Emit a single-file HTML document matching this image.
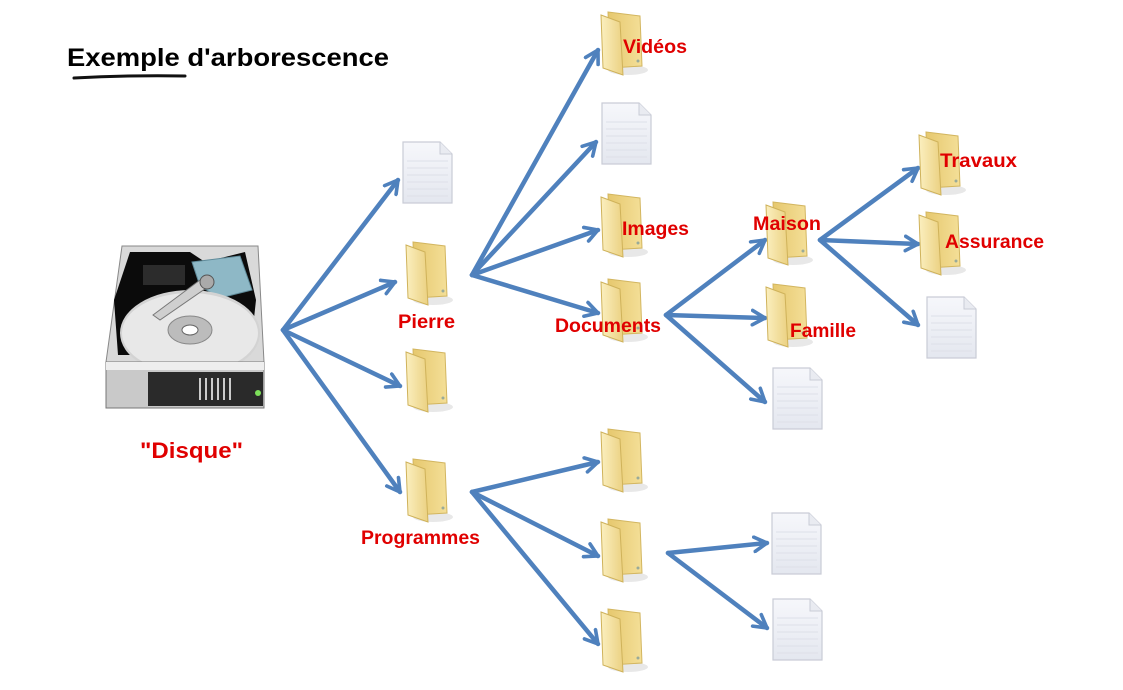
<!DOCTYPE html>
<html><head><meta charset="utf-8"><style>
html,body{margin:0;padding:0;background:#fff;}
svg{display:block;}
.l{font-family:"Liberation Sans",Arial,sans-serif;font-weight:bold;font-size:19.5px;fill:#e00000;}
</style></head><body>
<svg width="1123" height="690" viewBox="0 0 1123 690" xmlns="http://www.w3.org/2000/svg">
<defs>
<linearGradient id="fb" x1="0" x2="1"><stop offset="0" stop-color="#e6c86e"/><stop offset="1" stop-color="#f4df98"/></linearGradient>
<linearGradient id="ff" x1="0" x2="1"><stop offset="0" stop-color="#fbefbf"/><stop offset="1" stop-color="#ebd182"/></linearGradient>
<linearGradient id="dg" x1="0" y1="0" x2="0" y2="1"><stop offset="0" stop-color="#f6f7fb"/><stop offset="1" stop-color="#e4e7ef"/></linearGradient>
<g id="folder">
<ellipse cx="28" cy="60" rx="20" ry="5" fill="#e8e8e8"/>
<path d="M8 2 L40 6 L42 56 L10 58 Z" fill="url(#fb)" stroke="#d3b660" stroke-width="1"/>
<path d="M1 5 L20 12 L23 65 L3 58 Z" fill="url(#ff)" stroke="#cfb25a" stroke-width="1"/>
<circle cx="38" cy="51" r="1.5" fill="#9a9"/>
</g>
<g id="doc">
<path d="M1 1 L38 1 L50 13 L50 62 L1 62 Z" fill="url(#dg)" stroke="#c9ccd6" stroke-width="1.2"/>
<path d="M38 1 L38 13 L50 13" fill="#e9ebf1" stroke="#c9ccd6"/>
<g stroke="#dde0e8" stroke-width="1"><line x1="5" y1="20" x2="46" y2="20"/><line x1="5" y1="27" x2="46" y2="27"/><line x1="5" y1="34" x2="46" y2="34"/><line x1="5" y1="41" x2="46" y2="41"/><line x1="5" y1="48" x2="46" y2="48"/><line x1="5" y1="55" x2="46" y2="55"/></g>
</g>
<marker id="ah" viewBox="0 0 10 10" refX="8" refY="5" markerWidth="4" markerHeight="4" orient="auto" markerUnits="strokeWidth">
<path d="M1 1 L8 5 L1 9" fill="none" stroke="#4f81bd" stroke-width="2" stroke-linecap="round" stroke-linejoin="round"/>
</marker>
</defs>

<text x="67" y="66" font-family="Liberation Sans,Arial,sans-serif" font-weight="bold" font-size="25" fill="#000" textLength="322" lengthAdjust="spacingAndGlyphs">Exemple d'arborescence</text>
<path d="M74 78 Q130 75 185 76" stroke="#111" stroke-width="3" fill="none" stroke-linecap="round"/>

<g stroke="#4f81bd" stroke-width="4.5" fill="none" stroke-linecap="round" marker-end="url(#ah)">
<line x1="283" y1="330" x2="398" y2="180"/>
<line x1="283" y1="330" x2="395" y2="282"/>
<line x1="283" y1="330" x2="400" y2="386"/>
<line x1="283" y1="330" x2="400" y2="492"/>
<line x1="472" y1="275" x2="598" y2="50"/>
<line x1="472" y1="275" x2="596" y2="142"/>
<line x1="472" y1="275" x2="598" y2="230"/>
<line x1="472" y1="275" x2="598" y2="313"/>
<line x1="666" y1="315" x2="765" y2="240"/>
<line x1="666" y1="315" x2="765" y2="318"/>
<line x1="666" y1="315" x2="765" y2="402"/>
<line x1="820" y1="240" x2="918" y2="168"/>
<line x1="820" y1="240" x2="918" y2="244"/>
<line x1="820" y1="240" x2="918" y2="325"/>
<line x1="472" y1="492" x2="598" y2="462"/>
<line x1="472" y1="492" x2="598" y2="556"/>
<line x1="472" y1="492" x2="598" y2="644"/>
<line x1="668" y1="553" x2="767" y2="543"/>
<line x1="668" y1="553" x2="767" y2="628"/>
</g>

<use href="#doc" x="402" y="141"/>
<use href="#folder" x="405" y="240"/>
<use href="#folder" x="405" y="347"/>
<use href="#folder" x="405" y="457"/>
<use href="#folder" x="600" y="10"/>
<use href="#doc" x="601" y="102"/>
<use href="#folder" x="600" y="192"/>
<use href="#folder" x="600" y="277"/>
<use href="#folder" x="765" y="200"/>
<use href="#folder" x="765" y="282"/>
<use href="#doc" x="772" y="367"/>
<use href="#folder" x="918" y="130"/>
<use href="#folder" x="918" y="210"/>
<use href="#doc" x="926" y="296"/>
<use href="#folder" x="600" y="427"/>
<use href="#folder" x="600" y="517"/>
<use href="#folder" x="600" y="607"/>
<use href="#doc" x="771" y="512"/>
<use href="#doc" x="772" y="598"/>

<g>
<path d="M122 246 L258 246 L264 362 L106 362 Z" fill="#d9d9d9" stroke="#888"/>
<path d="M130 252 L190 252 L205 262 L245 252 L256 300 L250 355 L118 355 L114 300 Z" fill="#0b0b0b"/>
<rect x="143" y="265" width="42" height="20" fill="#2c2c2c"/>
<path d="M192 262 L240 256 L252 290 L220 298 L200 286 Z" fill="#8eb8c6" stroke="#5f8a99"/>
<ellipse cx="190" cy="333" rx="70" ry="43" fill="#d3d3d3"/>
<ellipse cx="190" cy="333" rx="68" ry="40" fill="#e8e8e8"/>
<ellipse cx="190" cy="330" rx="22" ry="14" fill="#bcbcbc" stroke="#888"/>
<ellipse cx="190" cy="330" rx="8" ry="5" fill="#fff" stroke="#666"/>
<path d="M153 315 L200 280 L212 284 L160 320 Z" fill="#cfcfcf" stroke="#777"/>
<circle cx="207" cy="282" r="7" fill="#aaa" stroke="#555"/>
<path d="M106 362 L264 362 L264 408 L106 408 Z" fill="#c9c9c9" stroke="#777"/>
<rect x="148" y="372" width="115" height="34" fill="#2a2a2a"/>
<rect x="106" y="362" width="158" height="8" fill="#eee"/>
<g stroke="#ccc" stroke-width="2"><line x1="200" y1="378" x2="200" y2="400"/><line x1="206" y1="378" x2="206" y2="400"/><line x1="212" y1="378" x2="212" y2="400"/><line x1="218" y1="378" x2="218" y2="400"/><line x1="224" y1="378" x2="224" y2="400"/><line x1="230" y1="378" x2="230" y2="400"/></g>
<circle cx="258" cy="393" r="3" fill="#7de05a"/>
</g>

<text class="l" x="140" y="458" style="font-size:22px" textLength="103" lengthAdjust="spacingAndGlyphs">"Disque"</text>
<text class="l" x="398" y="328" textLength="57" lengthAdjust="spacingAndGlyphs">Pierre</text>
<text class="l" x="361" y="544" textLength="119" lengthAdjust="spacingAndGlyphs">Programmes</text>
<text class="l" x="623" y="53" textLength="64" lengthAdjust="spacingAndGlyphs">Vidéos</text>
<text class="l" x="622" y="235" textLength="67" lengthAdjust="spacingAndGlyphs">Images</text>
<text class="l" x="555" y="332" textLength="106" lengthAdjust="spacingAndGlyphs">Documents</text>
<text class="l" x="753" y="230" textLength="68" lengthAdjust="spacingAndGlyphs">Maison</text>
<text class="l" x="790" y="337" textLength="66" lengthAdjust="spacingAndGlyphs">Famille</text>
<text class="l" x="940" y="167" textLength="77" lengthAdjust="spacingAndGlyphs">Travaux</text>
<text class="l" x="945" y="248" textLength="99" lengthAdjust="spacingAndGlyphs">Assurance</text>
</svg>
</body></html>
